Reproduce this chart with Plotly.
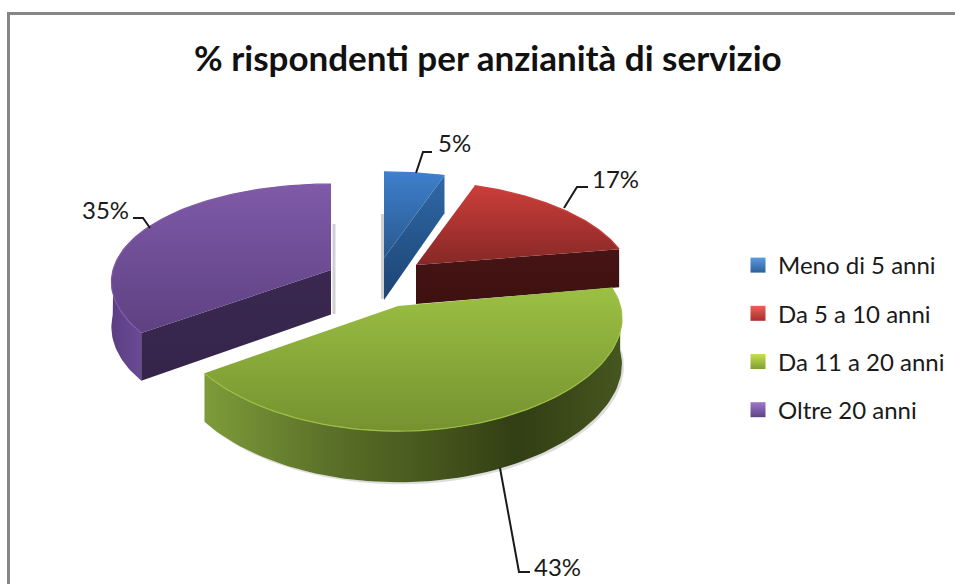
import numpy as np
import plotly.graph_objects as go

categories = ["Meno di 5 anni", "Da 5 a 10 anni", "Da 11 a 20 anni", "Oltre 20 anni"]
values = [5, 17, 43, 35]
value_labels = ["5%", "17%", "43%", "35%"]
chart_title = "% rispondenti per anzianità di servizio"

# look of the tilted pie, in page pixels
apex = [(384, 258), (416, 265), (398, 306), (331, 270)]
thickness = [42, 39, 45, 44.5]
rx_scale = [1, 0.97, 1.02, 1]
ry_size = [102, 85, 102, 98.2]
ky_size = [0.185, 0.02, 0.185, 0.142]
RX = 218
KX = 0.12

top_colors = [("#3f7fcc", "#28598f"), ("#cc3e3a", "#862826"), ("#9cc044", "#75922f"), ("#7f5aa8", "#5e4182")]
legend_colors = [("#2f5f9a", "#5a9be0"), ("#a82e2a", "#f0605a"), ("#7f9f33", "#c4e04f"), ("#5f4285", "#9c78cc")]
cut_colors = [("#2f68a6", "#1d4474"), ("#461414", "#3e1010"), None, ("#3a2850", "#35244a")]
wall_scale = [
    None,
    None,
    [[0, "#7d9c39"], [0.3, "#5b7029"], [0.55, "#45561c"], [0.75, "#323e14"], [1, "#46561f"]],
    [[0, "#5a3f83"], [1, "#6a4a95"]],
]
label_pos = [(454, 142), (615, 178.5), (557, 566), (105, 209.5)]
leaders = [
    "M416,173 L423,152 L432,152",
    "M564,208 L577,187 L588,187",
    "M150,228 L143,218 L133,218",
    "M500,468 L519,572 L530,572",
]
# thin grey shadows next to the straight edges
shadow_strips = ["M382.5,214 L382.5,299", "M334,224 L334,314"]


def project(i, theta, z=0.0):
    # theta clockwise from 12 o'clock, z pushes the point down the side wall
    x, y = np.sin(theta), np.cos(theta)
    ax, ay = apex[i]
    sx = ax + RX * rx_scale[i] * x / (1 + KX * y)
    sy = ay - ry_size[i] * y / (1 + ky_size[i] * y) + z * thickness[i] / (1 + KX * y)
    return sx, sy


def add_poly(fig, xs, ys, colors=None, scale=None, kind="vertical"):
    stops = scale if scale else [[0, colors[1]], [1, colors[0]]]
    fig.add_trace(go.Scatter(
        x=list(xs) + [xs[0]], y=list(ys) + [ys[0]], mode="lines", line=dict(width=0),
        fill="toself", fillgradient=dict(type=kind, colorscale=stops),
        hoverinfo="skip", showlegend=False,
    ))


fig = go.Figure()

edges = np.cumsum([0] + values) / sum(values) * 2 * np.pi
draw_order = [0, 1, 3, 2]

for i in draw_order:
    t0, t1 = edges[i], edges[i + 1]
    arc = np.linspace(t0, t1, 90)
    ax, ay = apex[i]
    d = thickness[i]
    topx, topy = project(i, arc)

    # outer wall on the part of the rim that faces the viewer
    front = arc[np.cos(arc) < 0.02]
    if len(front) and wall_scale[i]:
        if i == 3:
            front = front[front < np.radians(272)]
        wx0, wy0 = project(i, front)
        wx1, wy1 = project(i, front, 1)

        # soft shadow under the wall
        fig.add_trace(go.Scatter(
            x=list(wx1) + list(wx1[::-1] + 2), y=list(wy1) + list(wy1[::-1] + 2),
            mode="lines", line=dict(width=0), fill="toself", fillcolor="rgba(170,170,170,0.4)",
            hoverinfo="skip", showlegend=False,
        ))
        add_poly(fig, list(wx0) + list(wx1[::-1]), list(wy0) + list(wy1[::-1]),
                 scale=wall_scale[i], kind="horizontal")

    # cut face that can be seen
    if cut_colors[i]:
        t_cut = t0 if i == 3 else t1
        rx0, ry0 = project(i, t_cut)
        rx1, ry1 = project(i, t_cut, 1)
        add_poly(fig, [rx0, ax, ax, rx1], [ry0, ay, ay + d, ry1], colors=cut_colors[i])

    # top face
    add_poly(fig, [ax] + list(topx), [ay] + list(topy), colors=top_colors[i])

    # light edge along the rim
    fig.add_trace(go.Scatter(
        x=topx, y=topy, mode="lines", line=dict(width=1.2, color=top_colors[i][0]),
        hoverinfo="skip", showlegend=False,
    ))

# legend entries
for name, (col, light) in zip(categories, legend_colors):
    fig.add_trace(go.Scatter(
        x=[None], y=[None], mode="markers", name=name, legendgroup=name,
        marker=dict(symbol="square", size=15, color=light,
                    gradient=dict(type="vertical", color=col)),
    ))

shapes = [dict(type="rect", x0=8.5, y0=13.5, x1=1000, y1=700, line=dict(color="#868686", width=3),
               fillcolor="rgba(0,0,0,0)", layer="below")]
for p in shadow_strips:
    shapes.append(dict(type="path", path=p, line=dict(color="#d0d0d0", width=3), layer="below"))
for p in leaders:
    shapes.append(dict(type="path", path=p, line=dict(color="#1a1a1a", width=2)))

annotations = [
    dict(x=px, y=py, text=t, showarrow=False, xanchor="center", yanchor="middle",
         font=dict(family="Lato", size=24, color="#1a1a1a"))
    for t, (px, py) in zip(value_labels, label_pos)
]
annotations.append(dict(x=488, y=57, text=f"<b>{chart_title}</b>", showarrow=False,
                        xanchor="center", yanchor="middle",
                        font=dict(family="Lato", size=35, color="#111111")))

fig.update_layout(
    width=955, height=584,
    margin=dict(l=0, r=0, t=0, b=0),
    paper_bgcolor="white", plot_bgcolor="white",
    xaxis=dict(range=[0, 955], visible=False, fixedrange=True),
    yaxis=dict(range=[584, 0], visible=False, fixedrange=True),
    shapes=shapes, annotations=annotations,
    legend=dict(x=738 / 955, y=1 - 243 / 584, xanchor="left", yanchor="top",
                font=dict(family="Lato", size=24, color="#1a1a1a"),
                tracegroupgap=14, itemwidth=30, bgcolor="rgba(0,0,0,0)"),
)

fig.write_html("out.html", config=dict(displayModeBar=False),
               post_script="document.body.style.margin='0';document.body.style.overflow='hidden';")
